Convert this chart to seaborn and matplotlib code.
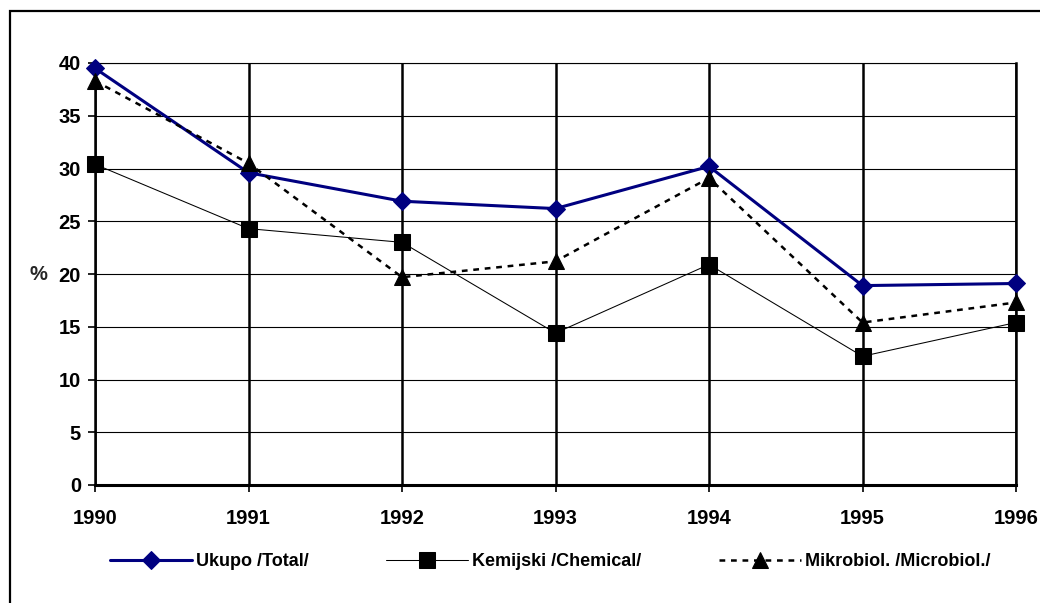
import matplotlib
matplotlib.use('Agg')
import matplotlib.pyplot as plt
import seaborn as sns
import pandas as pd
from matplotlib.patches import Rectangle

years = [1990, 1991, 1992, 1993, 1994, 1995, 1996]
ukupno = [39.5, 29.6, 26.9, 26.2, 30.2, 18.9, 19.1]
kemijski = [30.4, 24.3, 23.0, 14.4, 20.9, 12.2, 15.4]
mikrobiol = [38.3, 30.5, 19.7, 21.2, 29.1, 15.4, 17.3]
labels = ['Ukupo /Total/', 'Kemijski /Chemical/', 'Mikrobiol. /Microbiol./']

df = pd.DataFrame({'year': years, 'ukupno': ukupno, 'kemijski': kemijski, 'mikrobiol': mikrobiol})

sns.set_style('white')
plt.rcParams['font.family'] = ['Liberation Sans', 'DejaVu Sans']
plt.rcParams['font.weight'] = 'bold'
plt.rcParams['text.color'] = 'black'
plt.rcParams['xtick.color'] = 'black'
plt.rcParams['ytick.color'] = 'black'

fig = plt.figure(figsize=(10.4, 6.03), dpi=100)
ax = fig.add_axes([95/1040, 1-485/603, 921/1040, 422/603])

sns.lineplot(data=df, x='year', y='ukupno', ax=ax, color='#000080', lw=2.2,
             marker='D', markersize=9.5, markeredgecolor='#000080', label=labels[0])
sns.lineplot(data=df, x='year', y='kemijski', ax=ax, color='black', lw=0.75,
             marker='s', markersize=11, markeredgecolor='black', label=labels[1])
sns.lineplot(data=df, x='year', y='mikrobiol', ax=ax, color='black', lw=1.8,
             marker='^', markersize=11, markeredgecolor='black', label=labels[2])
ax.lines[2].set_dashes((2.3, 2.3))
for ln in ax.lines:
    ln.set_clip_on(False)
    ln.set_zorder(5)

ax.set_xlim(1990, 1996)
ax.set_ylim(0, 40)
ax.set_xticks(years)
ax.set_yticks(range(0, 41, 5))
ax.xaxis.grid(True, color='black', lw=1.8)
ax.yaxis.grid(True, color='black', lw=0.8)
ax.set_axisbelow(True)
ax.spines['top'].set_linewidth(0.8)
ax.spines['bottom'].set_linewidth(2.2)
ax.spines['left'].set_linewidth(1.8)
ax.spines['right'].set_linewidth(1.8)
for s in ax.spines:
    ax.spines[s].set_color('black')

ax.tick_params(axis='x', direction='out', length=5, width=1.2, pad=12, labelsize=14.5, colors='black')
ax.tick_params(axis='y', direction='out', length=5, width=1.2, pad=5, labelsize=14.5, colors='black')
ax.tick_params(bottom=True, left=True)
plt.setp(ax.get_xticklabels() + ax.get_yticklabels(), fontweight='bold')
ax.set_xlabel('')
ax.set_ylabel('%', rotation=0, fontsize=14.5, fontweight='bold', ha='right', va='center')
ax.yaxis.set_label_coords(-48/921, 0.5)

h, l = ax.get_legend_handles_labels()
ax.get_legend().remove()
fig.legend(h, l, loc='center', bbox_to_anchor=(0.529, 1-562/603), ncol=3, frameon=False,
           handlelength=4.55, handletextpad=0.22, columnspacing=4.3, numpoints=1,
           prop={'size': 13, 'weight': 'bold'})

fig.add_artist(Rectangle((9.5/1040, -0.2), 1.2, 1.2 - 11/603, transform=fig.transFigure,
                         fill=False, lw=1.6, ec='black'))

plt.savefig('out.png', dpi=100)
